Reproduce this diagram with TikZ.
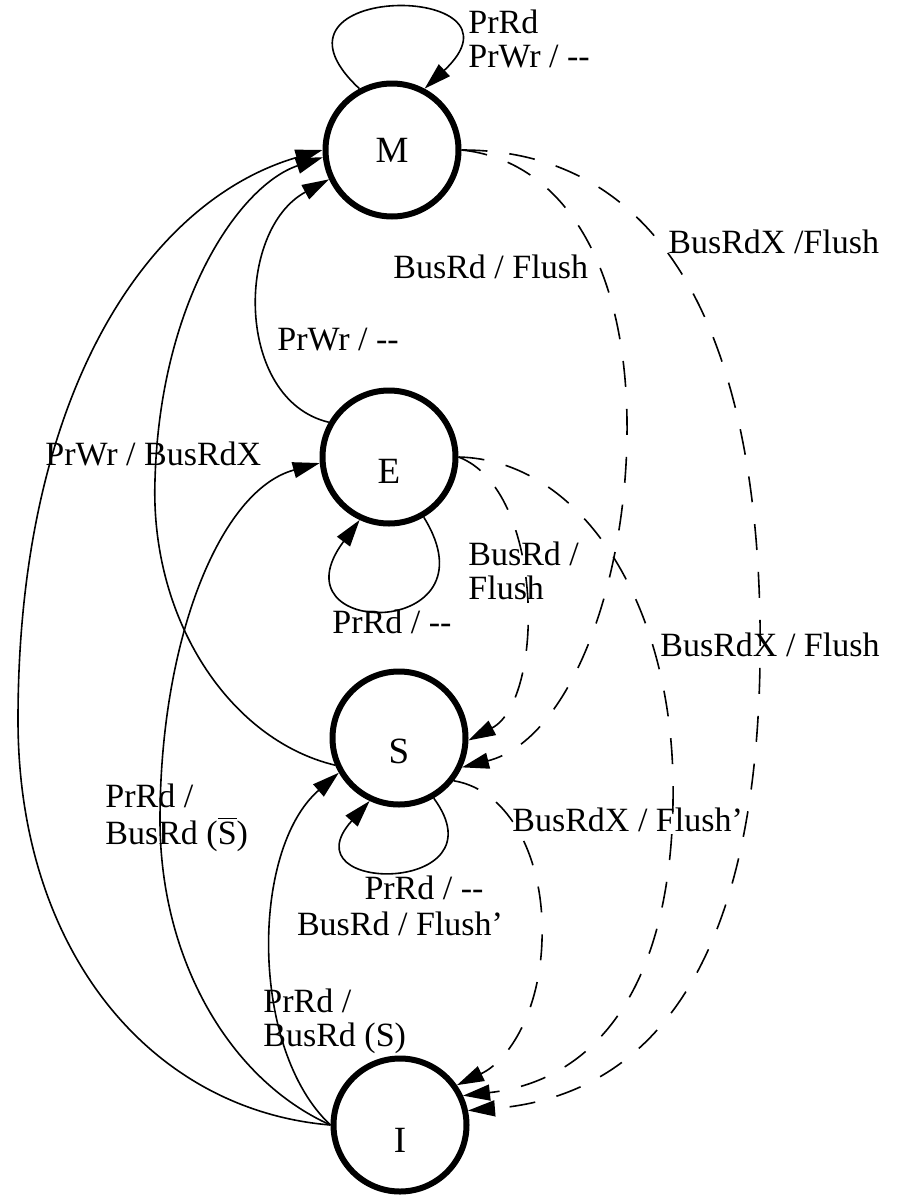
\documentclass[tikz,border=0pt]{standalone}
\usepackage{fontspec}
\setmainfont{Liberation Serif}[Ligatures=TeXOff]
\usetikzlibrary{arrows.meta}

\begin{document}
\begin{tikzpicture}[x=0.5pt,y=-0.5pt,
  state/.style={circle,draw,line width=3pt,minimum size=66.5pt,inner sep=0pt},
  letter/.style={font=\fontsize{18.5}{20}\selectfont},
  lbl/.style={font=\fontsize{17}{17}\selectfont,inner sep=0pt},
  trans/.style={line width=0.8pt,-{Triangle[length=13.5pt,width=8pt]}},
  bus/.style={trans,dash pattern=on 13pt off 11pt}]
\useasboundingbox (0,0) rectangle (896,1199);
% states
\node[state,label={[letter]center:M}] (M) at (392,150) {};
\node[state,label={[letter,yshift=-7pt]center:E}] (E) at (389,457) {};
\node[state,label={[letter,yshift=-6.5pt]center:S}] (S) at (399,738) {};
\node[state,label={[letter,yshift=-7.5pt]center:I}] (I) at (400,1125) {};
% processor side
\draw[trans] (M.118) .. controls (244,-19) and (540,-19) .. (M.62);
\draw[trans] (E.300) .. controls (500,640) and (270,640) .. (E.245);
\draw[trans] (S.300) .. controls (505,895) and (285,895) .. (S.245);
\draw[trans] (I.west) .. controls (150,1110) and (18,950) .. (18,720) .. controls (18,390) and (150,200) .. (M.west);
\draw[trans] (S.203) .. controls (230,740) and (150,620) .. (155,480) .. controls (160,300) and (240,185) .. (M.186);
\draw[trans] (I.west) .. controls (230,1080) and (160,960) .. (160,820) .. controls (160,640) and (220,490) .. (E.185);
\draw[trans] (E.150) .. controls (235,400) and (235,230) .. (M.205);
\draw[trans] (I.west) .. controls (250,1050) and (250,850) .. (S.210);
% bus side
\draw[bus] (M.east) .. controls (560,160) and (625,260) .. (627,420) .. controls (629,580) and (570,740) .. (S.335);
\draw[bus] (M.east) .. controls (660,150) and (755,330) .. (760,620) .. controls (765,950) and (660,1095) .. (I.12);
\draw[bus] (E.east) .. controls (545,490) and (545,700) .. (S.358);
\draw[bus] (E.east) .. controls (580,460) and (670,600) .. (673,780) .. controls (676,980) and (600,1080) .. (I.25);
\draw[bus] (S.322) .. controls (510,790) and (545,860) .. (542,940) .. controls (540,1010) and (510,1060) .. (I.35);
% labels
\node[lbl,anchor=north west,align=left] (tMM) at (468,10) {PrRd\\PrWr / --};
\node[lbl,anchor=north west] (tMS) at (393,255) {BusRd / Flush};
\node[lbl,anchor=north west] (tMI) at (668,230) {BusRdX /Flush};
\node[lbl,anchor=north west] (tEM) at (277,328) {PrWr / --};
\node[lbl,anchor=north west] (tSM) at (45,442) {PrWr / BusRdX};
\node[lbl,anchor=north west,align=left] (tES) at (468,542) {BusRd /\\Flush};
\node[lbl,anchor=north west] (tEE) at (332,610) {PrRd / --};
\node[lbl,anchor=north west] (tEI) at (660,633) {BusRdX / Flush};
\node[lbl,anchor=north west,align=left] (tIE) at (105,783) {PrRd /\\[1.5pt]BusRd ($\overline{\hbox{S}}$)};
\node[lbl,anchor=north west] (tSI) at (512,807) {BusRdX / Flush’};
\node[lbl,anchor=north,align=center] (tSS) at (400,875) {\hspace*{24pt}PrRd / --\\[1pt]BusRd / Flush’};
\node[lbl,anchor=north west,align=left] (tIS) at (263,988) {PrRd /\\BusRd (S)};
\end{tikzpicture}
\end{document}
